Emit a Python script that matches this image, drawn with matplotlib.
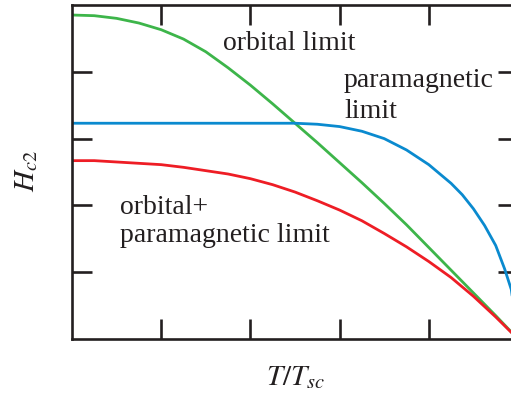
import numpy as np
import matplotlib.pyplot as plt

plt.rcParams['mathtext.fontset'] = 'stix'
plt.rcParams['font.family'] = 'Liberation Serif'

# reduced temperature T/Tsc
t = [0.0, 0.05, 0.1, 0.15, 0.2, 0.25, 0.3, 0.35, 0.4, 0.45, 0.5,
     0.55, 0.6, 0.65, 0.7, 0.75, 0.8, 0.85, 0.9, 0.95, 1.0]

# orbital limit (green)
h_orb = [4.85, 4.84, 4.80, 4.73, 4.63, 4.49, 4.30, 4.06, 3.80, 3.52, 3.23,
         2.94, 2.64, 2.34, 2.03, 1.71, 1.37, 1.03, 0.69, 0.35, 0.0]
# orbital + paramagnetic limit (red)
h_both = [2.67, 2.67, 2.65, 2.63, 2.61, 2.57, 2.52, 2.47, 2.40, 2.31, 2.20,
          2.07, 1.93, 1.77, 1.58, 1.38, 1.16, 0.92, 0.64, 0.33, 0.0]

# paramagnetic limit (blue), denser near Tsc
t_para = [0.0, 0.5, 0.55, 0.6, 0.65, 0.7, 0.75, 0.8, 0.85, 0.875,
          0.9, 0.925, 0.95, 0.97, 0.985, 1.0]
h_para = [3.23, 3.23, 3.215, 3.18, 3.11, 3.00, 2.83, 2.61, 2.33, 2.16,
          1.95, 1.70, 1.40, 1.05, 0.74, 0.0]

W, H = 511, 396
fig = plt.figure(figsize=(W / 100, H / 100), dpi=100)
ax = fig.add_axes([72 / W, (H - 339) / H, (518 - 72) / W, (339 - 5) / H])

green = '#3db54a'
blue = '#0a8acf'
red = '#ee1d25'

ax.plot(t, h_orb, color=green, lw=2.0, solid_joinstyle='round')
ax.plot(t_para, h_para, color=blue, lw=2.0, solid_joinstyle='round')
ax.plot(t, h_both, color=red, lw=2.0, solid_joinstyle='round')

ax.set_xlim(0, 1)
ax.set_ylim(0, 5)
ax.set_xticks([0.2, 0.4, 0.6, 0.8])
ax.set_yticks([1, 2, 3, 4])
ax.tick_params(direction='in', length=14.5, width=1.9, color='#231f20',
               top=True, right=True, labelleft=False, labelbottom=False)
for s in ax.spines.values():
    s.set_linewidth(1.9)
    s.set_color('#231f20')

tc = '#231f20'
fs = 20
ax.text(0.339, 4.33, 'orbital limit', fontsize=fs, color=tc, va='baseline')
ax.text(0.610, 3.77, 'paramagnetic', fontsize=fs, color=tc, va='baseline')
ax.text(0.610, 3.31, 'limit', fontsize=fs, color=tc, va='baseline')
ax.text(0.108, 1.87, 'orbital+', fontsize=fs, color=tc, va='baseline')
ax.text(0.108, 1.45, 'paramagnetic limit', fontsize=fs, color=tc, va='baseline')

fig.text(27 / W, 1 - 171 / H, r'$H_{c\mathit{2}}$', fontsize=21, rotation=90,
         ha='center', va='center', color=tc)
fig.text(296 / W, 1 - 378 / H, r'$T/T_{sc}$', fontsize=21,
         ha='center', va='center', color=tc)

fig.savefig('out.png', dpi=100)
